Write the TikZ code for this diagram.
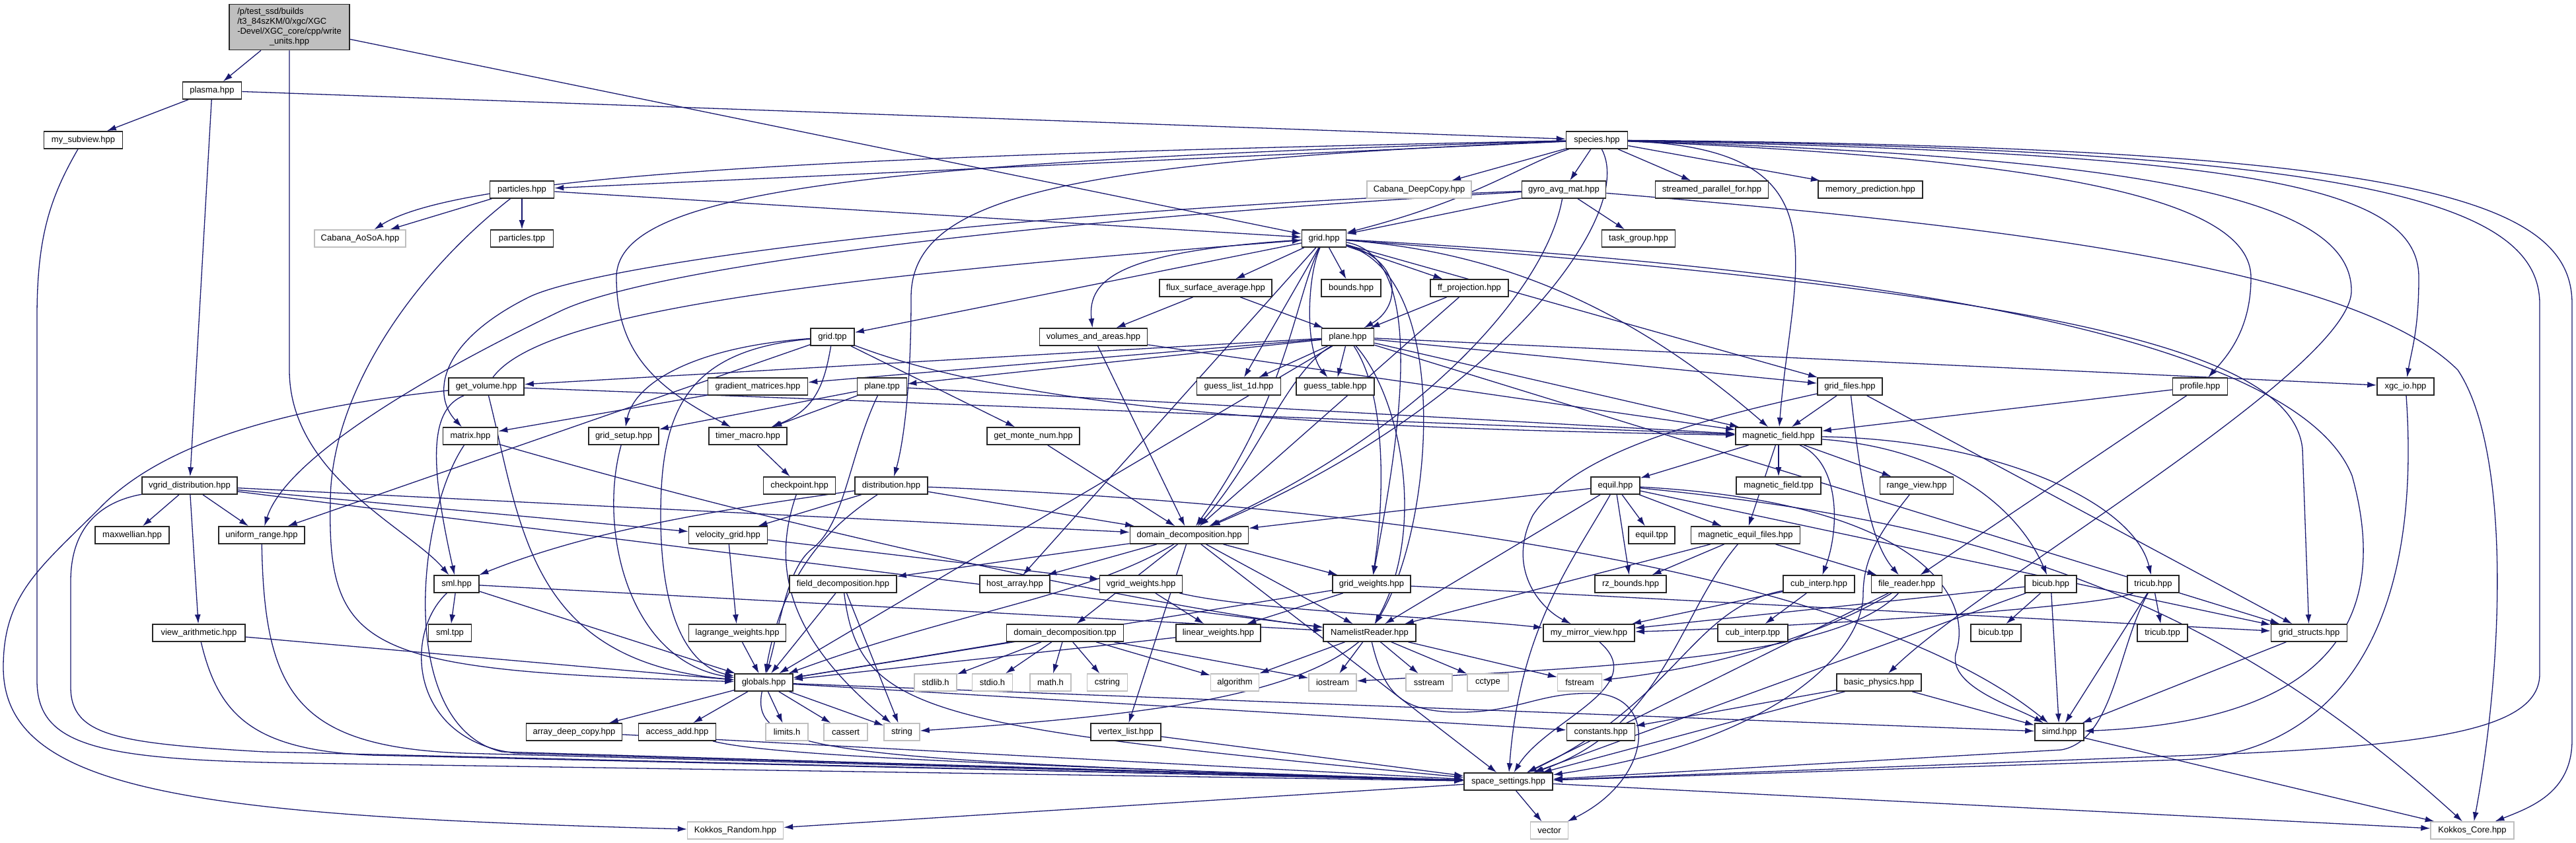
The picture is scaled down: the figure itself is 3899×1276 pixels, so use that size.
\documentclass[tikz,border=0pt]{standalone}
\usepackage{fontspec}
\setmainfont{Liberation Sans}
\usetikzlibrary{arrows.meta,backgrounds}
\definecolor{edgeblue}{HTML}{191970}
\definecolor{sysgray}{HTML}{BFBFBF}
\definecolor{maingray}{HTML}{BFBFBF}
\begin{document}
\begin{tikzpicture}[x=1pt,y=-1pt,
  hdr/.style={draw=black!85,line width=1.6pt,fill=white,minimum height=26pt,inner sep=0pt,font=\fontsize{13}{15.5}\selectfont},
  sys/.style={hdr,draw=sysgray,line width=1.4pt},
  edge/.style={draw=edgeblue,line width=1.3pt,-{Latex[length=14pt,width=9pt]}}]
\useasboundingbox (0,0) rectangle (3899,1276);
% ---------- nodes ----------
\node[hdr,fill=maingray,minimum width=182pt,minimum height=69pt] (main) at (438,41)
 {\renewcommand{\arraystretch}{0.95}\begin{tabular}{@{}l@{}}/p/test\_ssd/builds\\/t3\_84szKM/0/xgc/XGC\\-Devel/XGC\_core/cpp/write\\\multicolumn{1}{@{}c@{}}{\_units.hpp}\end{tabular}};
\node[hdr,minimum width=89pt] (plasma) at (321,137) {plasma.hpp};
\node[hdr,minimum width=119pt] (mysub) at (126,212) {my\_subview.hpp};
\node[hdr,minimum width=93pt] (species) at (2417,212) {species.hpp};
\node[sys,minimum width=138pt] (aosoa) at (545,361) {Cabana\_AoSoA.hpp};
\node[hdr,minimum width=97pt] (particles) at (790,287) {particles.hpp};
\node[hdr,minimum width=95pt] (particlestpp) at (790,361) {particles.tpp};
\node[sys,minimum width=158pt] (deepcopy) at (2148,287) {Cabana\_DeepCopy.hpp};
\node[hdr,minimum width=127pt] (gyro) at (2367,287) {gyro\_avg\_mat.hpp};
\node[hdr,minimum width=171pt] (streamed) at (2591,287) {streamed\_parallel\_for.hpp};
\node[hdr,minimum width=158pt] (mempred) at (2831,287) {memory\_prediction.hpp};
\node[hdr,minimum width=67pt] (grid) at (2004,361) {grid.hpp};
\node[hdr,minimum width=111pt] (taskgroup) at (2480,361) {task\_group.hpp};
\node[hdr,minimum width=90pt] (bounds) at (2045,436) {bounds.hpp};
\node[hdr,minimum width=170pt] (flux) at (1840,436) {flux\_surface\_average.hpp};
\node[hdr,minimum width=118pt] (ffproj) at (2224,436) {ff\_projection.hpp};
\node[hdr,minimum width=66pt] (gridtpp) at (1260,510) {grid.tpp};
\node[hdr,minimum width=163pt] (volumes) at (1655,510) {volumes\_and\_areas.hpp};
\node[hdr,minimum width=79pt] (plane) at (2040,510) {plane.hpp};
\node[hdr,minimum width=151pt] (gradmat) at (1147,585) {gradient\_matrices.hpp};
\node[hdr,minimum width=75pt] (planetpp) at (1335,585) {plane.tpp};
\node[hdr,minimum width=127pt] (guesslist) at (1875,585) {guess\_list\_1d.hpp};
\node[hdr,minimum width=118pt] (guesstable) at (2021,585) {guess\_table.hpp};
\node[hdr,minimum width=98pt] (gridfiles) at (2800,585) {grid\_files.hpp};
\node[hdr,minimum width=114pt] (getvolume) at (736,585) {get\_volume.hpp};
\node[hdr,minimum width=83pt] (profile) at (3330,585) {profile.hpp};
\node[hdr,minimum width=86pt] (xgcio) at (3641,585) {xgc\_io.hpp};
\node[hdr,minimum width=83pt] (matrix) at (712,660) {matrix.hpp};
\node[hdr,minimum width=106pt] (gridsetup) at (944,660) {grid\_setup.hpp};
\node[hdr,minimum width=118pt] (timermacro) at (1132,660) {timer\_macro.hpp};
\node[hdr,minimum width=140pt] (getmonte) at (1564,660) {get\_monte\_num.hpp};
\node[hdr,minimum width=130pt] (magfield) at (2692,660) {magnetic\_field.hpp};
\node[hdr,minimum width=144pt] (vgriddist) at (287,735) {vgrid\_distribution.hpp};
\node[hdr,minimum width=109pt] (checkpoint) at (1210,735) {checkpoint.hpp};
\node[hdr,minimum width=110pt] (distribution) at (1349,735) {distribution.hpp};
\node[hdr,minimum width=74pt] (equil) at (2445,735) {equil.hpp};
\node[hdr,minimum width=128pt] (magfieldtpp) at (2692,735) {magnetic\_field.tpp};
\node[hdr,minimum width=111pt] (rangeview) at (2901,735) {range\_view.hpp};
\node[hdr,minimum width=112pt] (maxwellian) at (200,810) {maxwellian.hpp};
\node[hdr,minimum width=130pt] (uniformrange) at (396,810) {uniform\_range.hpp};
\node[hdr,minimum width=119pt] (velgrid) at (1102,810) {velocity\_grid.hpp};
\node[hdr,minimum width=179pt] (domdec) at (1800,810) {domain\_decomposition.hpp};
\node[hdr,minimum width=70pt] (equiltpp) at (2500,810) {equil.tpp};
\node[hdr,minimum width=165pt] (magequil) at (2642,810) {magnetic\_equil\_files.hpp};
\node[hdr,minimum width=68pt] (sml) at (691,884) {sml.hpp};
\node[hdr,minimum width=162pt] (fielddec) at (1276,884) {field\_decomposition.hpp};
\node[hdr,minimum width=106pt] (hostarray) at (1536,884) {host\_array.hpp};
\node[hdr,minimum width=125pt] (vgridweights) at (1727,884) {vgrid\_weights.hpp};
\node[hdr,minimum width=118pt] (gridweights) at (2076,884) {grid\_weights.hpp};
\node[hdr,minimum width=108pt] (rzbounds) at (2468,884) {rz\_bounds.hpp};
\node[hdr,minimum width=108pt] (cubinterp) at (2753,884) {cub\_interp.hpp};
\node[hdr,minimum width=107pt] (filereader) at (2886,884) {file\_reader.hpp};
\node[hdr,minimum width=78pt] (bicub) at (3104,884) {bicub.hpp};
\node[hdr,minimum width=78pt] (tricub) at (3259,884) {tricub.hpp};
\node[hdr,minimum width=140pt] (viewarith) at (301,958) {view\_arithmetic.hpp};
\node[hdr,minimum width=65pt] (smltpp) at (681,958) {sml.tpp};
\node[hdr,minimum width=147pt] (lagrange) at (1116,958) {lagrange\_weights.hpp};
\node[hdr,minimum width=177pt] (domdectpp) at (1612,958) {domain\_decomposition.tpp};
\node[hdr,minimum width=128pt] (linweights) at (1844,958) {linear\_weights.hpp};
\node[hdr,minimum width=140pt] (namelist) at (2073,958) {NamelistReader.hpp};
\node[hdr,minimum width=138pt] (mirror) at (2405,958) {my\_mirror\_view.hpp};
\node[hdr,minimum width=106pt] (cubinterptpp) at (2653,958) {cub\_interp.tpp};
\node[hdr,minimum width=76pt] (bicubtpp) at (3021,958) {bicub.tpp};
\node[hdr,minimum width=76pt] (tricubtpp) at (3273,958) {tricub.tpp};
\node[hdr,minimum width=115pt] (gridstructs) at (3495,958) {grid\_structs.hpp};
\node[hdr,minimum width=88pt] (globals) at (1156,1033) {globals.hpp};
\node[sys,minimum width=64pt] (stdlib) at (1416,1033) {stdlib.h};
\node[sys,minimum width=61pt] (stdio) at (1502,1033) {stdio.h};
\node[sys,minimum width=62pt] (mathh) at (1590,1033) {math.h};
\node[sys,minimum width=61pt] (cstring) at (1676,1033) {cstring};
\node[sys,minimum width=73pt] (algorithm) at (1869,1033) {algorithm};
\node[sys,minimum width=72pt] (iostream) at (2017,1033) {iostream};
\node[sys,minimum width=70pt] (sstream) at (2163,1033) {sstream};
\node[sys,minimum width=62pt] (cctype) at (2252,1033) {cctype};
\node[sys,minimum width=67pt] (fstream) at (2391,1033) {fstream};
\node[hdr,minimum width=128pt] (basicphys) at (2844,1033) {basic\_physics.hpp};
\node[hdr,minimum width=145pt] (arraydeep) at (869,1108) {array\_deep\_copy.hpp};
\node[hdr,minimum width=117pt] (accessadd) at (1025,1108) {access\_add.hpp};
\node[sys,minimum width=64pt] (limits) at (1191,1108) {limits.h};
\node[sys,minimum width=66pt] (cassert) at (1280,1108) {cassert};
\node[sys,minimum width=54pt] (string) at (1365,1108) {string};
\node[hdr,minimum width=106pt] (vertexlist) at (1704,1108) {vertex\_list.hpp};
\node[hdr,minimum width=103pt] (constants) at (2423,1108) {constants.hpp};
\node[hdr,minimum width=74pt] (simd) at (3117,1108) {simd.hpp};
\node[hdr,minimum width=134pt] (spacesettings) at (2283,1183) {space\_settings.hpp};
\node[sys,minimum width=145pt] (kokkosrandom) at (1113,1257) {Kokkos\_Random.hpp};
\node[sys,minimum width=57pt] (vector) at (2345,1257) {vector};
\node[sys,minimum width=126pt] (kokkoscore) at (3742,1257) {Kokkos\_Core.hpp};
% ---------- edges ----------
\begin{scope}[on background layer]
\fill[white] (0,0) rectangle (3899,1276);
\foreach \a/\b in {main/plasma, main/grid, plasma/mysub, plasma/vgriddist, plasma/species,
  species/particles, species/deepcopy, species/gyro, species/streamed, species/mempred,
  particles/aosoa, particles/particlestpp, particles/grid, gyro/taskgroup, gyro/grid,
  grid/bounds, grid/flux, grid/ffproj, grid/gridtpp, grid/guesslist, grid/gridfiles, grid/hostarray,
  flux/volumes, flux/plane, ffproj/plane, ffproj/domdec, volumes/domdec, volumes/magfield,
  plane/guesstable, plane/guesslist, plane/gradmat, plane/planetpp, plane/getvolume, plane/magfield,
  plane/gridfiles, plane/xgcio, plane/gridstructs, plane/globals,
  gridtpp/getmonte, gridtpp/uniformrange, planetpp/gridsetup, planetpp/timermacro, planetpp/magfield,
  gradmat/matrix, getvolume/magfield, timermacro/checkpoint, getmonte/domdec,
  distribution/velgrid, distribution/domdec}
  \draw[edge] (\a) -- (\b);
\foreach \a/\b in {vgriddist/maxwellian, vgriddist/uniformrange, vgriddist/viewarith, vgriddist/domdec,
  vgriddist/velgrid, vgriddist/namelist, velgrid/lagrange, velgrid/vgridweights,
  domdec/fielddec, domdec/hostarray, domdec/domdectpp, domdec/vertexlist, domdec/gridweights,
  domdec/namelist, domdec/spacesettings, fielddec/globals, fielddec/string,
  vgridweights/linweights, gridweights/linweights, gridweights/gridstructs, gridweights/globals,
  linweights/globals, domdectpp/stdlib, domdectpp/stdio, domdectpp/mathh, domdectpp/cstring,
  domdectpp/algorithm, domdectpp/globals, domdectpp/iostream, lagrange/globals,
  sml/smltpp, sml/globals, sml/namelist, viewarith/globals,
  namelist/iostream, namelist/sstream, namelist/cctype, namelist/fstream, namelist/algorithm}
  \draw[edge] (\a) -- (\b);
\foreach \a/\b in {cubinterp/cubinterptpp, cubinterp/mirror, bicub/bicubtpp, bicub/simd, bicub/mirror,
  bicub/spacesettings, tricub/tricubtpp, tricub/simd, gridstructs/simd,
  globals/arraydeep, globals/accessadd, globals/limits, globals/cassert, globals/string,
  globals/constants, globals/simd, arraydeep/spacesettings,
  basicphys/constants, basicphys/spacesettings, basicphys/simd,
  equil/equiltpp, equil/magequil, equil/rzbounds, equil/domdec, equil/namelist, equil/gridstructs,
  magfield/equil, magfield/magfieldtpp, magfield/rangeview, magfield/magequil,
  magequil/rzbounds, magequil/filereader, magequil/namelist,
  gridfiles/magfield, gridfiles/gridstructs, profile/magfield, profile/filereader,
  filereader/spacesettings, simd/kokkoscore, spacesettings/vector, spacesettings/kokkosrandom,
  spacesettings/kokkoscore, vertexlist/spacesettings}
  \draw[edge] (\a) -- (\b);
% curved connectors
\draw[edge] (main.south) -- (438,560) .. controls (438,720) and (620,800) .. (sml);
\draw[edge] (mysub) .. controls (75,300) and (56,360) .. (56,480) -- (56,1030) .. controls (56,1130) and (150,1150) .. (450,1155) -- (spacesettings);
\draw[edge] (vgriddist) .. controls (150,760) and (107,800) .. (107,880) -- (107,1040) .. controls (107,1115) and (180,1125) .. (400,1138) -- (spacesettings);
\draw[edge] (getvolume) .. controls (450,615) and (250,665) .. (150,770) .. controls (60,860) and (5,900) .. (5,1010) .. controls (5,1200) and (300,1235) .. (kokkosrandom);
\draw[edge] (particles) .. controls (620,420) and (500,600) .. (500,760) .. controls (495,990) and (560,1015) .. (globals);
\draw[edge] (species) .. controls (2300,250) and (2240,300) .. (grid);
\draw[edge] (species) .. controls (1300,245) and (933,290) .. (933,420) .. controls (933,540) and (1000,590) .. (timermacro);
\draw[edge] (species) .. controls (1600,245) and (1379,300) .. (1379,450) .. controls (1379,600) and (1365,680) .. (distribution);
\draw[edge] (species) .. controls (1300,235) and (700,262) .. (aosoa);
\draw[edge] (species) .. controls (2480,330) and (2250,620) .. (domdec);
\draw[edge] (species) .. controls (2800,225) and (2712,400) .. (magfield);
\draw[edge] (species) .. controls (3100,240) and (3407,300) .. (3407,420) .. controls (3407,500) and (3370,540) .. (profile);
\draw[edge] (species) .. controls (3250,238) and (3559,300) .. (3559,440) .. controls (3559,560) and (3000,880) .. (basicphys);
\draw[edge] (species) .. controls (3400,232) and (3661,280) .. (3661,420) .. controls (3661,500) and (3650,530) .. (xgcio);
\draw[edge] (species) .. controls (3550,226) and (3844,300) .. (3844,460) -- (3844,1020) .. controls (3844,1100) and (3700,1125) .. (3400,1140) -- (spacesettings);
\draw[edge] (species) .. controls (3650,222) and (3893,300) .. (3893,460) -- (3893,1120) .. controls (3893,1200) and (3830,1222) .. (kokkoscore);
\draw[edge] (gyro) .. controls (3000,340) and (3560,400) .. (3720,560) .. controls (3800,680) and (3790,1000) .. (kokkoscore);
\draw[edge] (gyro) .. controls (1600,330) and (1000,400) .. (850,470) .. controls (620,580) and (430,700) .. (uniformrange);
\draw[edge] (gyro) .. controls (1500,320) and (900,400) .. (800,450) .. controls (660,520) and (655,600) .. (matrix);
\draw[edge] (gyro) .. controls (2340,440) and (2150,650) .. (domdec);
\draw[edge] (grid) .. controls (2900,410) and (3480,520) .. (3560,720) .. controls (3610,900) and (3570,1090) .. (simd);
\draw[edge] (grid) .. controls (3050,440) and (3470,520) .. (3485,680) -- (gridstructs);
\draw[edge] (grid) .. controls (2125,395) and (2120,465) .. (plane);
\draw[edge] (grid) .. controls (1978,420) and (1975,530) .. (guesstable);
\draw[edge] (grid) .. controls (2250,380) and (2450,450) .. (magfield);
\draw[edge] (grid) .. controls (2170,390) and (2110,700) .. (gridweights);
\draw[edge] (grid) .. controls (2200,420) and (2170,800) .. (namelist);
\draw[edge] (grid) .. controls (1960,450) and (1950,600) .. (domdec);
\draw[edge] (grid) .. controls (1700,380) and (1645,420) .. (volumes);
\draw[edge] (plane) .. controls (2100,600) and (2095,760) .. (gridweights);
\draw[edge] (plane) .. controls (2120,600) and (2160,800) .. (namelist);
\draw[edge] (plane) .. controls (1950,560) and (1900,700) .. (domdec);
\draw[edge] (gridtpp) .. controls (1050,525) and (960,580) .. (gridsetup);
\draw[edge] (gridtpp) .. controls (1248,580) and (1235,620) .. (timermacro);
\draw[edge] (gridtpp) .. controls (1040,530) and (1000,620) .. (1000,780) .. controls (1000,950) and (1050,1010) .. (globals);
\draw[edge] (gridtpp) .. controls (1600,640) and (2200,650) .. (magfield);
\draw[edge] (planetpp) .. controls (1285,690) and (1280,790) .. (1230,830) .. controls (1190,860) and (1180,950) .. (globals);
\draw[edge] (getvolume) .. controls (820,470) and (1250,420) .. (grid);
\draw[edge] (getvolume) .. controls (650,620) and (650,700) .. (sml);
\draw[edge] (getvolume) .. controls (790,800) and (800,1000) .. (globals);
\draw[edge] (matrix) .. controls (630,780) and (600,1100) .. (760,1138) -- (spacesettings);
\draw[edge] (matrix) .. controls (1300,830) and (1800,925) .. (namelist);
\draw[edge] (gridsetup) .. controls (905,800) and (950,1000) .. (globals);
\draw[edge] (checkpoint) .. controls (1170,850) and (1185,960) .. (string);
\draw[edge] (distribution) .. controls (2000,760) and (2800,850) .. (simd);
\draw[edge] (distribution) .. controls (1250,800) and (1185,870) .. (globals);
\draw[edge] (distribution) .. controls (1100,770) and (900,800) .. (sml);
\draw[edge] (domdec) .. controls (1640,905) and (1450,925) .. (globals);
\draw[edge] (fielddec) .. controls (1300,1080) and (1400,1100) .. (spacesettings);
\draw[edge] (vgridweights) .. controls (1900,925) and (2200,935) .. (mirror);
\draw[edge] (namelist) .. controls (1950,1060) and (1700,1085) .. (string);
\draw[edge] (namelist) .. controls (2095,1050) and (2120,1075) .. (2200,1078) .. controls (2300,1080) and (2330,1045) .. (2420,1050) .. controls (2510,1060) and (2500,1180) .. (vector);
\draw[edge] (mirror) .. controls (2500,1040) and (2340,1090) .. (spacesettings);
\draw[edge] (cubinterp) .. controls (2560,920) and (2540,1060) .. (spacesettings);
\draw[edge] (tricub) .. controls (3180,920) and (2700,950) .. (mirror);
\draw[edge] (tricub) .. controls (3205,980) and (3200,1120) .. (3120,1135) -- (spacesettings);
\draw[edge] (viewarith) .. controls (330,1080) and (380,1135) .. (560,1143) -- (spacesettings);
\draw[edge] (sml) .. controls (610,960) and (620,1120) .. (780,1140) -- (spacesettings);
\draw[edge] (globals) .. controls (1135,1140) and (1250,1150) .. (spacesettings);
\draw[edge] (accessadd) .. controls (1150,1140) and (1400,1155) .. (spacesettings);
\draw[edge] (uniformrange) .. controls (400,1050) and (450,1130) .. (700,1140) -- (spacesettings);
\draw[edge] (equil) .. controls (2900,760) and (2990,900) .. (2960,990) .. controls (2950,1040) and (3050,1070) .. (simd);
\draw[edge] (equil) .. controls (2380,850) and (2300,950) .. (spacesettings);
\draw[edge] (equil) .. controls (3000,790) and (3350,900) .. (kokkoscore);
\draw[edge] (magfield) .. controls (2785,700) and (2785,800) .. (cubinterp);
\draw[edge] (magfield) .. controls (2960,680) and (3060,780) .. (bicub);
\draw[edge] (magfield) .. controls (3020,665) and (3230,760) .. (tricub);
\draw[edge] (magequil) .. controls (2540,930) and (2520,1100) .. (spacesettings);
\draw[edge] (rangeview) .. controls (2850,800) and (2820,840) .. (2820,900) .. controls (2820,980) and (2700,1120) .. (spacesettings);
\draw[edge] (gridfiles) .. controls (2550,640) and (2380,690) .. (2320,780) .. controls (2280,860) and (2330,920) .. (mirror);
\draw[edge] (gridfiles) .. controls (2815,720) and (2830,820) .. (filereader);
\draw[edge] (xgcio) .. controls (3670,1000) and (3500,1145) .. (3300,1150) -- (spacesettings);
\draw[edge] (filereader) .. controls (2780,1000) and (2400,1010) .. (iostream);
\draw[edge] (filereader) .. controls (2760,960) and (2600,1010) .. (fstream);
\end{scope}
\end{tikzpicture}
\end{document}
